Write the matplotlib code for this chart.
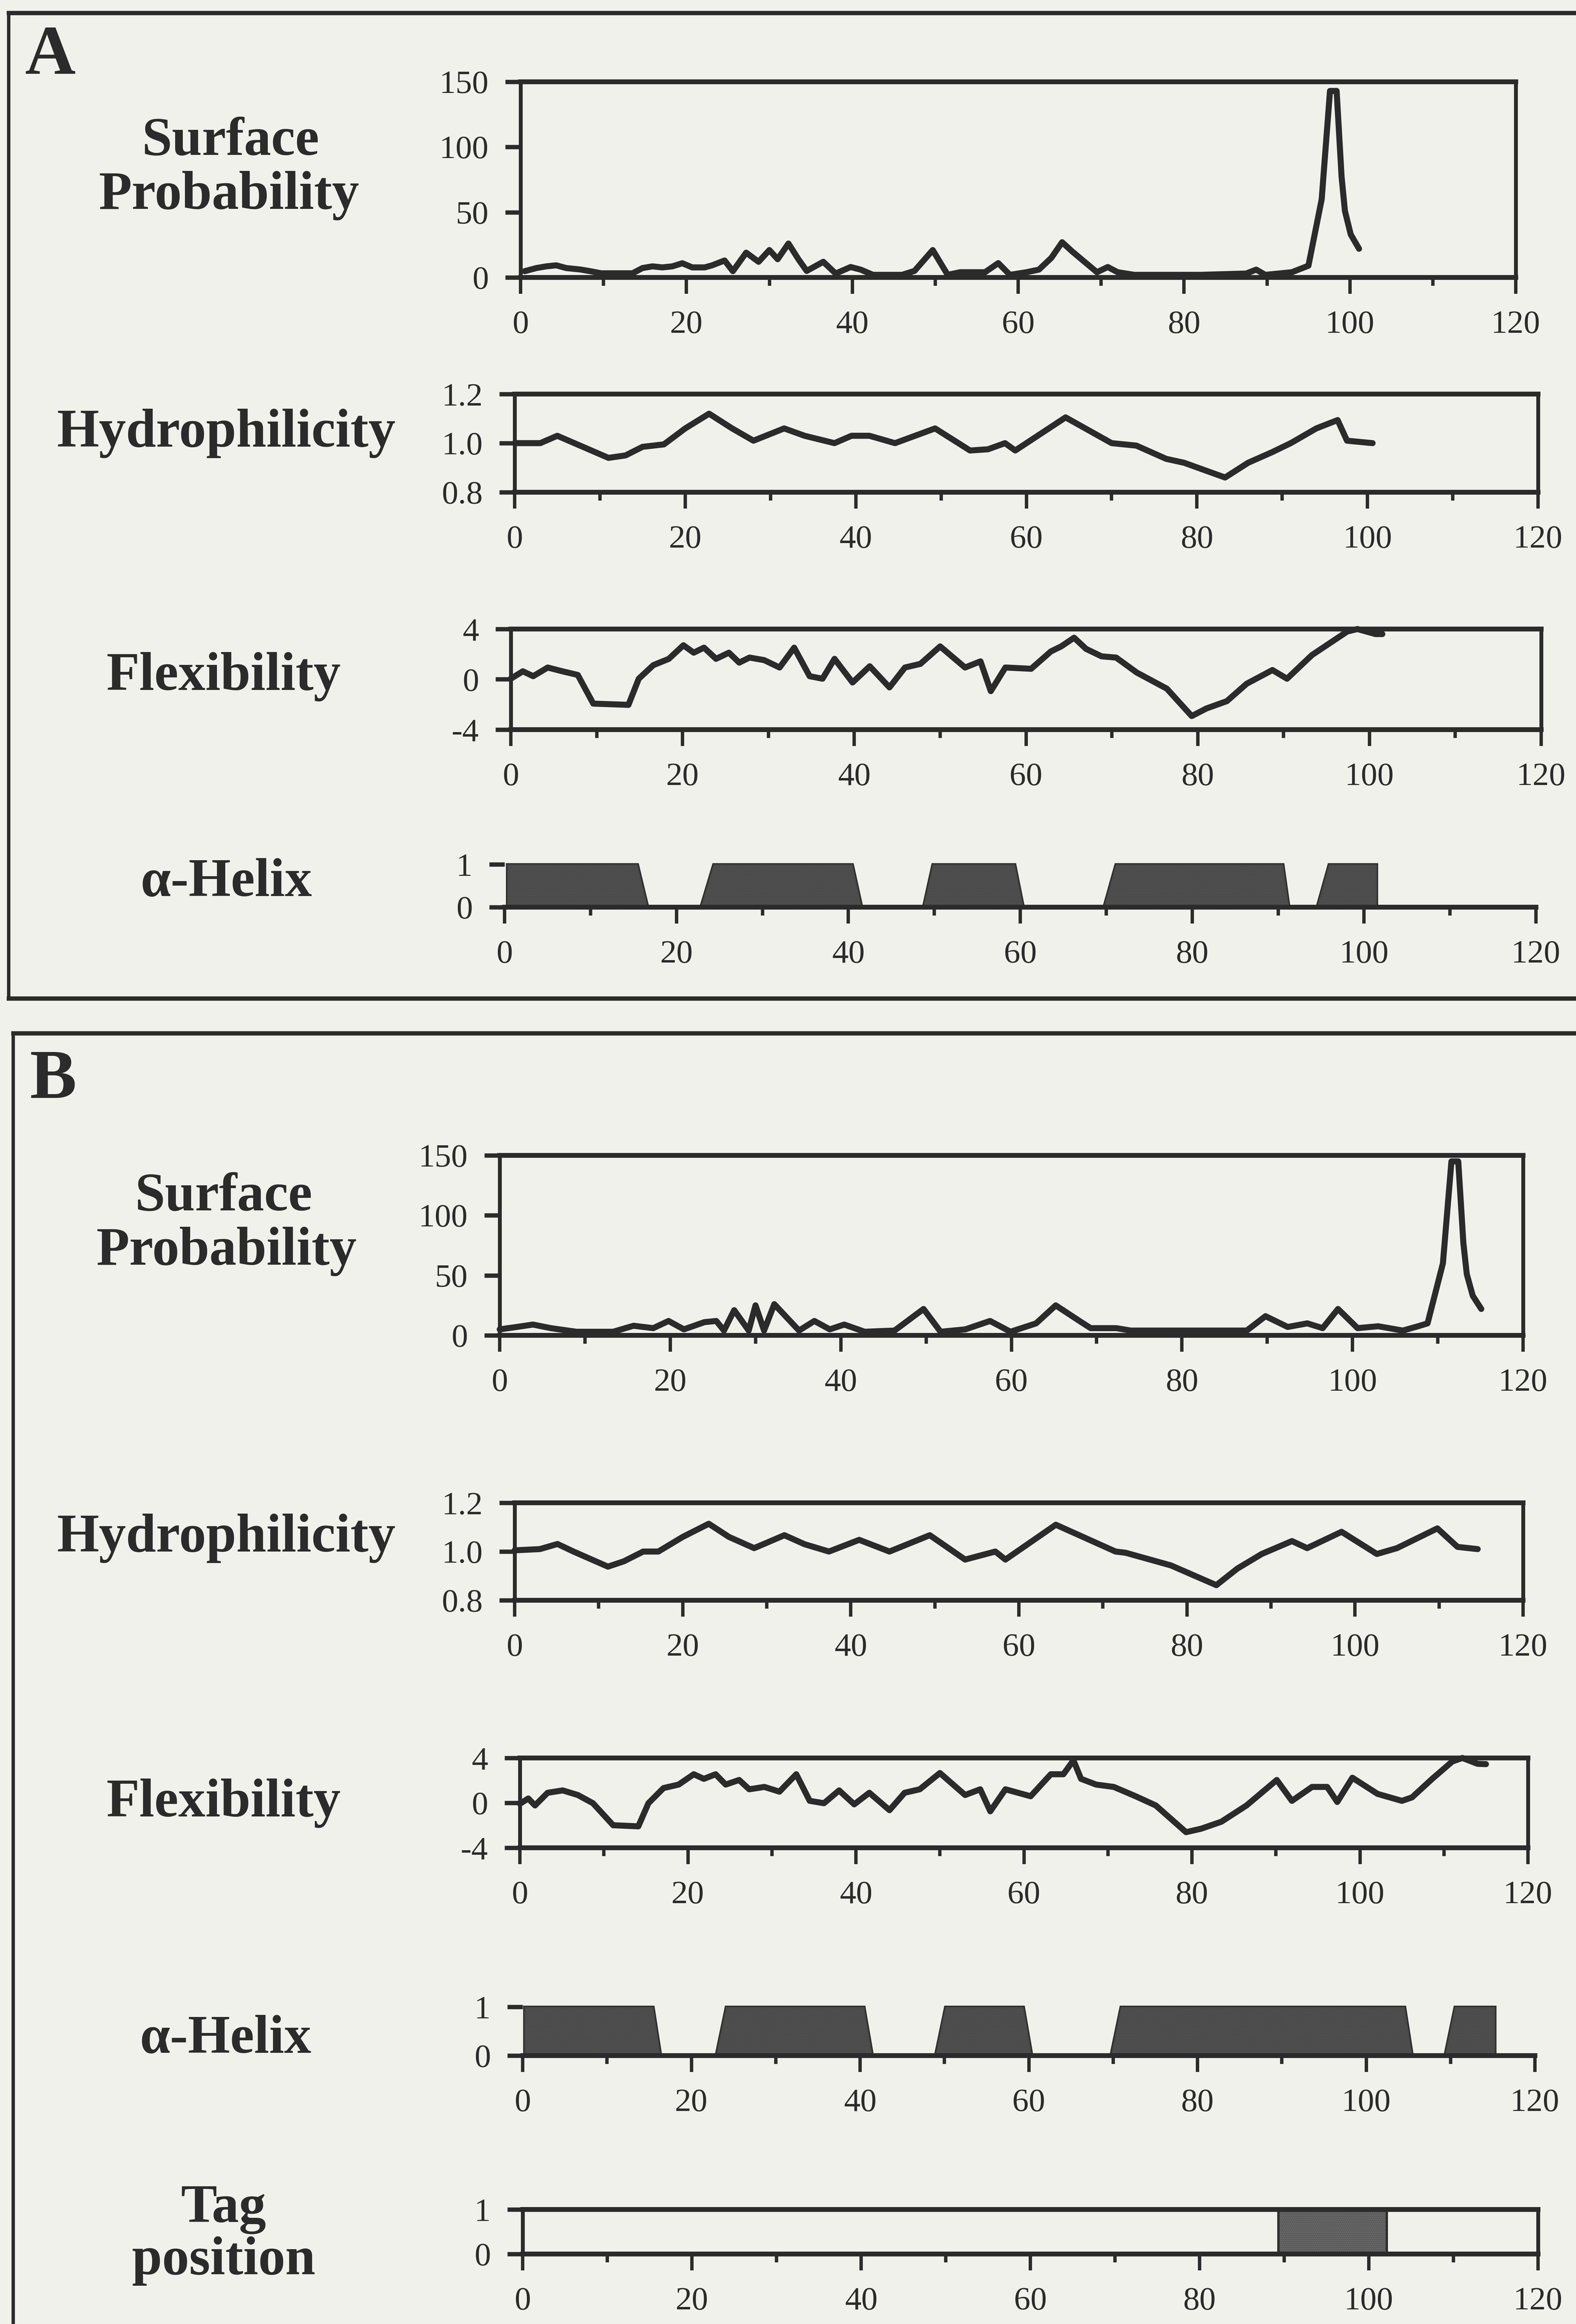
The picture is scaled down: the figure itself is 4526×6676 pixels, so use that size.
import matplotlib
matplotlib.use('Agg')
from matplotlib import pyplot as plt
from matplotlib.lines import Line2D
import numpy as np

W, H = 4526, 6676
INK = '#2b2b2b'
PAPER = '#f1f1ec'

plt.rcParams['font.family'] = ['Liberation Serif', 'DejaVu Serif']
plt.rcParams['axes.unicode_minus'] = False
plt.rcParams['hatch.linewidth'] = 3

# ---- panel A data (residue position, value) ----
surf_a_x = [0.5, 1.9, 3.1, 4.3, 5.5, 7.2, 8.4, 9.7, 13.5, 14.7, 15.9, 17.1, 18.3, 19.5, 20.7,
            22.2, 23.1, 24.6, 25.6, 27.2, 28.7, 30, 31, 32.3, 33.5, 34.5, 36.5, 38, 39.8, 41,
            42.5, 46, 47.5, 49.7, 51.5, 53, 56, 57.6, 59, 61, 62.5, 64, 65.3, 66.5, 68, 69.5,
            70.8, 72, 74, 82, 87.5, 88.7, 89.8, 93, 95, 96.6, 97.6, 98.4, 99, 99.4, 100.1, 101.1]
surf_a_y = [4.8, 7.2, 8.5, 9.3, 7.2, 6.1, 4.8, 3.2, 3.2, 7.2, 8.5, 7.7, 8.5, 10.9, 7.7,
            7.7, 9.3, 13, 4.8, 19, 12, 21, 14, 26, 14, 5, 12, 3, 8, 6,
            2, 2, 5, 21, 2, 4, 4, 11, 2, 4, 6, 15, 27, 20, 12, 4,
            8, 4, 2, 2, 3, 6, 2, 4, 9, 60, 143, 143, 77, 51, 33, 22]

hyd_a_x = [0, 3, 5, 7, 11, 13, 15, 17.5, 20, 22.8, 25.5, 28, 31.6, 34, 37.5, 39.5, 41.6, 44.6,
           49.3, 53.4, 55.5, 57.5, 58.7, 64.6, 70, 72.9, 76.4, 78.5, 83.3, 86, 88.8, 91, 94,
           96.5, 97.6, 100.6]
hyd_a_y = [1.0, 1.0, 1.03, 1.0, 0.94, 0.95, 0.985, 0.995, 1.06, 1.12, 1.06, 1.01, 1.06, 1.03,
           1.0, 1.03, 1.03, 1.0, 1.06, 0.97, 0.975, 1.0, 0.97, 1.105, 1.0, 0.99, 0.936, 0.92,
           0.86, 0.92, 0.963, 1.0, 1.06, 1.094, 1.01, 1.0]

flex_a_x = [0, 1.4, 2.6, 4.3, 6, 7.8, 9.6, 13.7, 14.9, 16.6, 18.4, 20.1, 21.3, 22.5, 23.9, 25.4,
            26.6, 27.8, 29.5, 31.3, 33, 34.8, 36.3, 37.7, 39.8, 41.8, 44.1, 45.9, 47.7, 50,
            52.9, 54.7, 55.9, 57.6, 60.6, 62.9, 64.1, 65.6, 67, 68.8, 70.5, 72.9, 76.4, 79.3,
            81, 83.4, 85.7, 88.7, 90.4, 93.3, 97.4, 98.6, 100.7, 101.5]
flex_a_y = [0.05, 0.64, 0.25, 0.94, 0.64, 0.35, -1.93, -2.03, 0.05, 1.13, 1.63, 2.71, 2.12,
            2.52, 1.63, 2.12, 1.33, 1.73, 1.53, 0.94, 2.52, 0.25, 0.05, 1.63, -0.25, 1.04,
            -0.64, 0.94, 1.23, 2.62, 0.94, 1.43, -0.94, 0.94, 0.84, 2.22, 2.62, 3.31, 2.42,
            1.83, 1.73, 0.54, -0.74, -2.92, -2.32, -1.73, -0.35, 0.74, 0.05, 1.93, 3.8, 4.0,
            3.6, 3.6]

helix_a_x = [0.3, 0.3, 15.5, 16.7, 22.8, 24.3, 40.5, 41.6, 48.7, 49.8, 59.4, 60.4,
             69.7, 71.1, 90.6, 91.3, 94.5, 95.9, 101.5, 101.5]
helix_a_y = [0, 1, 1, 0, 0, 1, 1, 0, 0, 1, 1, 0, 0, 1, 1, 0, 0, 1, 1, 0]

# ---- panel B data ----
surf_b_x = [0, 2, 3.9, 6, 9, 13.3, 15.7, 18, 19.8, 21.6, 24, 25.4, 26.3, 27.5, 29.2, 30, 31,
            32.2, 35.1, 36.9, 38.7, 40.4, 42.8, 46.3, 49.7, 51.7, 54.6, 57.5, 59.9, 62.9, 65.2,
            68.2, 69.3, 72.3, 74, 77, 82.9, 87.6, 89.8, 92.4, 94.7, 96.5, 98.3, 100.6, 103,
            105.9, 107.7, 108.8, 110.6, 111.6, 112.4, 113, 113.4, 114.1, 115.1]
surf_b_y = [5, 7, 9, 6, 3, 3, 8, 6, 12, 5, 11, 12, 4, 21, 4, 25, 4,
            26, 4, 12, 5, 9, 3, 4, 22, 3, 5, 12, 3, 10, 25,
            11, 6, 6, 4, 4, 4, 4, 16, 7, 10, 6, 22, 6, 7.6,
            4, 7.6, 10, 60, 145, 145, 77, 51, 33, 22]

hyd_b_x = [0, 3, 5.1, 7, 11.1, 13, 15.3, 17.1, 20, 23.1, 25.5, 28.5, 32.1, 34.5, 37.4, 41,
           44.6, 49.4, 53.6, 57.2, 58.4, 64.4, 71.5, 72.7, 78.1, 83.5, 86, 88.9, 92.5, 94.3,
           98.4, 102.6, 105, 109.8, 112.2, 114.6]
hyd_b_y = [1.005, 1.01, 1.031, 1.0, 0.938, 0.96, 1.0, 1.0, 1.06, 1.114, 1.06, 1.014, 1.067,
           1.03, 1.0, 1.048, 1.0, 1.067, 0.967, 1.0, 0.967, 1.11, 1.0, 0.995, 0.943, 0.862,
           0.93, 0.99, 1.043, 1.014, 1.081, 0.99, 1.014, 1.095, 1.019, 1.01]

flex_b_x = [0, 1, 1.8, 3.3, 5.1, 6.9, 8.7, 11.1, 14.1, 15.3, 17.1, 18.9, 20.7, 21.9, 23.3,
            24.5, 26.1, 27.3, 29.1, 30.9, 32.9, 34.5, 36.2, 38, 39.8, 41.6, 44, 45.8, 47.6,
            50, 53, 54.8, 56, 57.8, 60.8, 63.2, 64.7, 65.9, 66.8, 68.6, 70.7, 73.3, 75.7,
            79.3, 81.1, 83.5, 86.5, 90.1, 91.9, 94.3, 96.1, 97.3, 99.1, 102.1, 105, 106.2,
            108.6, 111, 112.2, 114, 115]
flex_b_y = [-0.08, 0.39, -0.23, 0.9, 1.11, 0.7, -0.03, -1.99, -2.09, -0.03, 1.32, 1.63, 2.55,
            2.14, 2.55, 1.63, 2.04, 1.21, 1.42, 1.0, 2.55, 0.18, -0.03, 1.11, -0.13, 0.9,
            -0.65, 0.9, 1.21, 2.66, 0.7, 1.21, -0.75, 1.21, 0.59, 2.55, 2.55, 3.79, 2.14,
            1.63, 1.42, 0.59, -0.23, -2.61, -2.3, -1.68, -0.23, 2.04, 0.18, 1.42, 1.42,
            0.08, 2.24, 0.8, 0.18, 0.49, 2.14, 3.69, 4.0, 3.48, 3.45]

helix_b_x = [0.2, 0.2, 15.5, 16.4, 22.9, 24.1, 40.5, 41.5, 48.9, 50.1, 59.4, 60.4,
             69.7, 70.9, 104.6, 105.5, 109.3, 110.5, 115.3, 115.3]
helix_b_y = [0, 1, 1, 0, 0, 1, 1, 0, 0, 1, 1, 0, 0, 1, 1, 0, 0, 1, 1, 0]

tag_b_x = [89.3, 89.3, 102.1, 102.1]
tag_b_y = [0, 1, 1, 0]


def box(x0, x1, ytop, ybot):
    return [x0 / W, 1 - ybot / H, (x1 - x0) / W, (ybot - ytop) / H]


def make_axes(fig, rect, ylim, yticks, ylabels, spines=('left', 'right', 'top', 'bottom')):
    ax = fig.add_axes(box(*rect))
    ax.set_facecolor('none')
    ax.set_xlim(0, 120)
    ax.set_ylim(*ylim)
    for side, sp in ax.spines.items():
        sp.set_visible(side in spines)
        sp.set_linewidth(10 if side in ('top', 'bottom') else 8)
        sp.set_color(INK)
        sp.set_capstyle('projecting')
    ax.set_xticks(np.arange(0, 121, 20))
    ax.set_xticks(np.arange(10, 120, 20), minor=True)
    ax.set_yticks(yticks)
    ax.set_yticklabels(ylabels)
    ax.tick_params(axis='x', which='major', direction='out', length=34, width=7, pad=34,
                   labelsize=68, color=INK, labelcolor=INK)
    ax.tick_params(axis='x', which='minor', direction='out', length=17, width=7, color=INK)
    ax.tick_params(axis='y', direction='out', length=32, width=9, pad=34,
                   labelsize=68, color=INK, labelcolor=INK)
    return ax


def label(fig, x, y, s, size=112):
    fig.text(x / W, 1 - y / H, s, ha='center', va='baseline', fontsize=size,
             fontweight='bold', color=INK)


def hline(fig, x0, x1, y):
    fig.add_artist(Line2D([x0 / W, x1 / W], [1 - y / H, 1 - y / H], transform=fig.transFigure,
                          color=INK, lw=9, solid_capstyle='projecting'))


def vline(fig, x, y0, y1):
    fig.add_artist(Line2D([x / W, x / W], [1 - y0 / H, 1 - y1 / H], transform=fig.transFigure,
                          color=INK, lw=7, solid_capstyle='projecting'))


def stipple(ax, xs, ys, base, dots):
    ax.fill(xs, ys, facecolor=base, edgecolor=INK, lw=5, clip_on=False)
    ax.fill(xs, ys, facecolor='none', edgecolor=dots, lw=0, hatch='...', clip_on=False)


fig = plt.figure(figsize=(W / 100, H / 100), dpi=100, facecolor=PAPER)

# panel frames
hline(fig, 25, W + 20, 37)
hline(fig, 25, W + 20, 2868)
vline(fig, 25, 37, 2868)
hline(fig, 38, W + 20, 2968)
vline(fig, 38, 2968, H + 20)

fig.text(72 / W, 1 - 212 / H, 'A', ha='left', va='baseline', fontsize=145,
         fontweight='bold', color=INK)
fig.text(86 / W, 1 - 3154 / H, 'B', ha='left', va='baseline', fontsize=145,
         fontweight='bold', color=INK)

line_kw = dict(color=INK, lw=12.5, solid_joinstyle='round', solid_capstyle='round', clip_on=False)

# ---- panel A ----
ax = make_axes(fig, (1495, 4353, 235, 797), (0, 150), [0, 50, 100, 150], ['0', '50', '100', '150'])
ax.plot(surf_a_x, surf_a_y, **line_kw)
label(fig, 662, 445, 'Surface')
label(fig, 657, 600, 'Probability')

ax = make_axes(fig, (1478, 4417, 1132, 1414), (0.8, 1.2), [0.8, 1.0, 1.2], ['0.8', '1.0', '1.2'])
ax.plot(hyd_a_x, hyd_a_y, **line_kw)
label(fig, 650, 1283, 'Hydrophilicity')

ax = make_axes(fig, (1467, 4426, 1807, 2096), (-4, 4), [-4, 0, 4], ['-4', '0', '4'])
ax.plot(flex_a_x, flex_a_y, **line_kw)
label(fig, 642, 1982, 'Flexibility')

ax = make_axes(fig, (1449, 4411, 2483, 2606), (0, 1), [0, 1], ['0', '1'], spines=('bottom',))
stipple(ax, helix_a_x, helix_a_y, '#3a3a3a', '#5e5e5e')
label(fig, 650, 2574, 'α-Helix')

# ---- panel B ----
ax = make_axes(fig, (1435, 4374, 3319, 3836), (0, 150), [0, 50, 100, 150], ['0', '50', '100', '150'])
ax.plot(surf_b_x, surf_b_y, **line_kw)
label(fig, 642, 3477, 'Surface')
label(fig, 650, 3633, 'Probability')

ax = make_axes(fig, (1478, 4374, 4317, 4597), (0.8, 1.2), [0.8, 1.0, 1.2], ['0.8', '1.0', '1.2'])
ax.plot(hyd_b_x, hyd_b_y, **line_kw)
label(fig, 650, 4457, 'Hydrophilicity')

ax = make_axes(fig, (1493, 4388, 5050, 5308), (-4, 4), [-4, 0, 4], ['-4', '0', '4'])
ax.plot(flex_b_x, flex_b_y, **line_kw)
label(fig, 642, 5218, 'Flexibility')

ax = make_axes(fig, (1501, 4408, 5765, 5905), (0, 1), [0, 1], ['0', '1'], spines=('bottom',))
stipple(ax, helix_b_x, helix_b_y, '#3a3a3a', '#5e5e5e')
label(fig, 648, 5897, 'α-Helix')

ax = make_axes(fig, (1501, 4417, 6347, 6475), (0, 1), [0, 1], ['0', '1'])
stipple(ax, tag_b_x, tag_b_y, '#8c8c8c', '#3a3a3a')
label(fig, 642, 6383, 'Tag')
label(fig, 642, 6533, 'position')

fig.savefig('out.png', dpi=100, facecolor=PAPER)
